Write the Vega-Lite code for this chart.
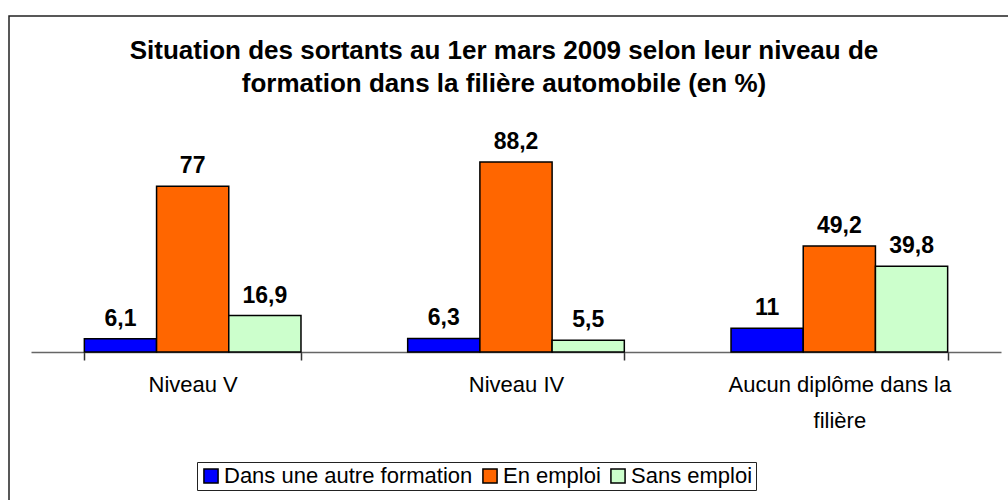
{
  "$schema": "https://vega.github.io/schema/vega-lite/v6.json",
  "autosize": {"type": "none"},
  "padding": {"left": 9, "top": 16, "right": 0, "bottom": 0},
  "width": 1010,
  "height": 490,
  "background": "white",
  "config": {
    "view": {"stroke": "#222222", "strokeWidth": 1.5},
    "font": "Liberation Sans",
    "locale": {"number": {"decimal": ",", "thousands": " ", "grouping": [3], "currency": ["", " €"]}}
  },
  "title": {
    "text": ["Situation des sortants au 1er mars 2009 selon leur niveau de", "formation dans la filière automobile (en %)"],
    "font": "Liberation Sans",
    "fontSize": 26,
    "fontWeight": "bold",
    "color": "#000000",
    "lineHeight": 33,
    "anchor": "middle",
    "frame": "group",
    "baseline": "bottom",
    "offset": -107,
    "dx": -10
  },
  "data": {
    "values": [
      {"niveau": "Niveau V", "situation": "Dans une autre formation", "pct": 6.1},
      {"niveau": "Niveau V", "situation": "En emploi", "pct": 77},
      {"niveau": "Niveau V", "situation": "Sans emploi", "pct": 16.9},
      {"niveau": "Niveau IV", "situation": "Dans une autre formation", "pct": 6.3},
      {"niveau": "Niveau IV", "situation": "En emploi", "pct": 88.2},
      {"niveau": "Niveau IV", "situation": "Sans emploi", "pct": 5.5},
      {"niveau": "Aucun diplôme dans la filière", "situation": "Dans une autre formation", "pct": 11},
      {"niveau": "Aucun diplôme dans la filière", "situation": "En emploi", "pct": 49.2},
      {"niveau": "Aucun diplôme dans la filière", "situation": "Sans emploi", "pct": 39.8}
    ]
  },
  "encoding": {
    "x": {
      "field": "niveau",
      "type": "nominal",
      "sort": ["Niveau V", "Niveau IV", "Aucun diplôme dans la filière"],
      "scale": {"range": [22, 992], "paddingInner": 0.33, "paddingOuter": 0.165},
      "axis": {
        "title": null,
        "orient": "bottom",
        "offset": -154,
        "labelAngle": 0,
        "labelFont": "Liberation Sans",
        "labelFontSize": 22,
        "labelColor": "#000000",
        "labelPadding": 14,
        "labelLineHeight": 36,
        "labelLimit": 400,
        "labelExpr": "datum.value == 'Aucun diplôme dans la filière' ? ['Aucun diplôme dans la', 'filière'] : datum.value",
        "domainColor": "#666666",
        "domainWidth": 1.5,
        "tickColor": "#333333",
        "tickWidth": 1.5,
        "tickSize": 8,
        "tickBand": "extent",
        "grid": false
      }
    },
    "xOffset": {
      "field": "situation",
      "type": "nominal",
      "sort": ["Dans une autre formation", "En emploi", "Sans emploi"],
      "scale": {"paddingInner": 0, "paddingOuter": 0}
    },
    "y": {
      "field": "pct",
      "type": "quantitative",
      "scale": {"domain": [-71.5, 156], "nice": false, "zero": false},
      "axis": null
    }
  },
  "layer": [
    {
      "mark": {"type": "bar", "stroke": "#000000", "strokeWidth": 1.5},
      "encoding": {
        "color": {
          "field": "situation",
          "type": "nominal",
          "sort": ["Dans une autre formation", "En emploi", "Sans emploi"],
          "scale": {"domain": ["Dans une autre formation", "En emploi", "Sans emploi"], "range": ["#0000FF", "#FF6600", "#CCFFCC"]},
          "legend": {
            "title": null,
            "orient": "none",
            "legendX": 188,
            "legendY": 446,
            "direction": "horizontal",
            "strokeColor": "#222222",
            "padding": 3,
            "symbolType": "square",
            "symbolSize": 200,
            "symbolStrokeColor": "#000000",
            "symbolStrokeWidth": 1.5,
            "symbolOpacity": 1,
            "labelFont": "Liberation Sans",
            "labelFontSize": 22,
            "labelColor": "#000000",
            "labelOffset": 2,
            "columnPadding": 6,
            "labelLimit": 400
          }
        }
      }
    },
    {
      "mark": {"type": "text", "baseline": "bottom", "dy": -8, "fontSize": 23, "fontWeight": "bold", "font": "Liberation Sans", "color": "#000000"},
      "encoding": {
        "text": {"field": "pct", "type": "quantitative", "format": ".1~f"}
      }
    }
  ]
}
